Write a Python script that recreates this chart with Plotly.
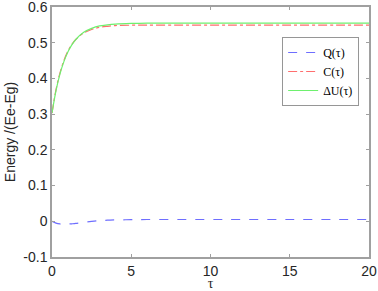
import plotly.graph_objects as go

tau = [0, 0.25, 0.5, 0.75, 1, 1.25, 1.5, 2, 2.5, 3, 3.5, 4, 5, 6, 8, 10, 12, 15, 18, 20]
Q = [0, -0.005, -0.0075, -0.008, -0.0078, -0.007, -0.006, -0.003, -0.0005, 0.002, 0.003, 0.0038, 0.0045, 0.005, 0.005, 0.005, 0.005, 0.005, 0.005, 0.005]
C = [0.303, 0.368, 0.415, 0.450, 0.476, 0.495, 0.509, 0.527, 0.537, 0.543, 0.546, 0.548, 0.549, 0.549, 0.549, 0.549, 0.549, 0.549, 0.549, 0.549]
dU = [0.303, 0.365, 0.412, 0.447, 0.474, 0.494, 0.509, 0.529, 0.540, 0.547, 0.550, 0.552, 0.554, 0.555, 0.555, 0.555, 0.555, 0.555, 0.555, 0.555]

names = ["Q(τ)", "C(τ)", "ΔU(τ)"]
xticks = [0, 5, 10, 15, 20]
yticks = [-0.1, 0, 0.1, 0.2, 0.3, 0.4, 0.5, 0.6]
yticktext = ["-0.1", "0", "0.1", "0.2", "0.3", "0.4", "0.5", "0.6"]

fig = go.Figure()
fig.add_trace(go.Scatter(x=tau, y=Q, mode="lines", name=names[0], line_shape="spline",
                         line=dict(color="rgb(110,110,255)", width=1.2, dash="dash")))
fig.add_trace(go.Scatter(x=tau, y=C, mode="lines", name=names[1], line_shape="spline",
                         line=dict(color="rgb(255,110,110)", width=1.2, dash="dashdot")))
fig.add_trace(go.Scatter(x=tau, y=dU, mode="lines", name=names[2], line_shape="spline",
                         line=dict(color="rgb(110,240,110)", width=1.2)))

axis_common = dict(showline=True, linecolor="rgb(160,160,160)", linewidth=1.5, mirror="ticks",
                   ticks="inside", ticklen=3, tickcolor="rgb(160,160,160)", showgrid=False,
                   zeroline=False, automargin=False, ticklabeloverflow="allow",
                   tickfont=dict(family="Liberation Sans, Arial", size=14, color="#262626"))

fig.update_layout(
    width=378, height=291,
    margin=dict(l=52, r=9, t=7, b=34),
    paper_bgcolor="white", plot_bgcolor="white",
    xaxis=dict(range=[0, 20], tickvals=xticks, title=dict(text="τ", standoff=4,
               font=dict(family="Liberation Serif, Times New Roman", size=14, color="#262626")), **axis_common),
    yaxis=dict(range=[-0.1, 0.6], tickvals=yticks, ticktext=yticktext,
               title=dict(text="Energy /(Ee-Eg)", standoff=4,
                          font=dict(family="Liberation Sans, Arial", size=14, color="#262626")), **axis_common),
    legend=dict(x=0.726, y=0.88, xanchor="left", yanchor="top", bgcolor="white",
                bordercolor="rgb(150,150,150)", borderwidth=1,
                font=dict(family="Liberation Serif, Times New Roman", size=12, color="black"),
                tracegroupgap=0, itemwidth=30),
    showlegend=True,
)

fig.write_html("out.html", config={"displayModeBar": False},
               post_script="document.body.style.margin='0';")
